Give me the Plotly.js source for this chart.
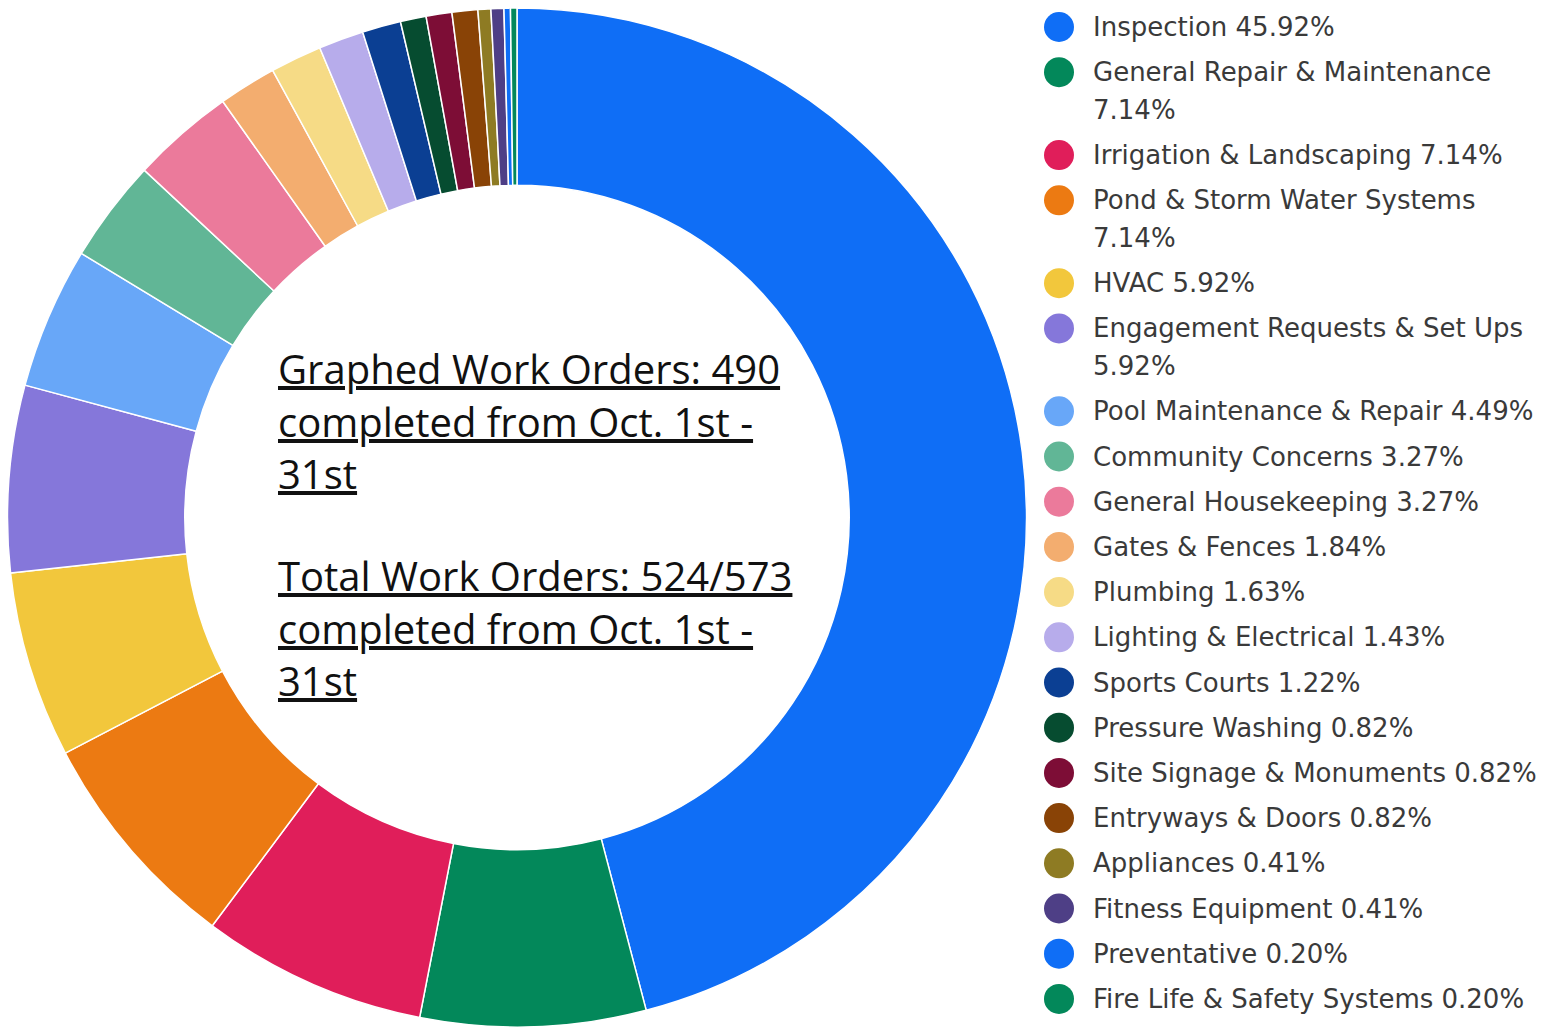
<!DOCTYPE html>
<html>
<head>
<meta charset="utf-8">
<script src="https://cdn.plot.ly/plotly-3.0.1.min.js"></script>
<style>html,body{margin:0;padding:0;background:#fff;}#chart{width:1560px;height:1029px;}</style>
</head>
<body>
<div id="chart"></div>
<script>
const categories = [
  "Inspection", "General Repair & Maintenance", "Irrigation & Landscaping",
  "Pond & Storm Water Systems", "HVAC", "Engagement Requests & Set Ups",
  "Pool Maintenance & Repair", "Community Concerns", "General Housekeeping",
  "Gates & Fences", "Plumbing", "Lighting & Electrical", "Sports Courts",
  "Pressure Washing", "Site Signage & Monuments", "Entryways & Doors",
  "Appliances", "Fitness Equipment", "Preventative", "Fire Life & Safety Systems"
];
const counts = [225, 35, 35, 35, 29, 29, 22, 16, 16, 9, 8, 7, 6, 4, 4, 4, 2, 2, 1, 1];
const colors = [
  "#0F6EF6", "#03885A", "#E01E5A", "#EC7A12", "#F2C73C", "#8577DA",
  "#68A7F8", "#61B696", "#EB7A9B", "#F3AD6F", "#F6DB86", "#B7ACEB",
  "#0B3F93", "#064C30", "#7D0D36", "#894306", "#8E7B23", "#4E3F86",
  "#0F6EF6", "#03885A"
];
const wrappedLabels = [1, 3, 5];  // legend entries whose percentage goes on a second line
const centerLines = [
  "Graphed Work Orders: 490", "completed from Oct. 1st -", "31st",
  "",
  "Total Work Orders: 524/573", "completed from Oct. 1st -", "31st"
];

const total = counts.reduce((a, b) => a + b, 0);
const pcts = counts.map(v => (v / total * 100).toFixed(2) + "%");

const W = 1560, H = 1029;
const pie = {
  type: "pie",
  values: counts,
  labels: categories,
  sort: false,
  direction: "clockwise",
  rotation: 0,
  hole: 0.652,
  textinfo: "none",
  hoverinfo: "label+percent",
  showlegend: false,
  marker: { colors: colors, line: { color: "#ffffff", width: 1.5 } },
  domain: { x: [5 / W, 1029 / W], y: [1 - 1027 / H, 1 - 8 / H] }
};

// legend layout
const legY = [];
const legX = [];
const annotations = [];
let y = 27;
const step = 45.2, extra = 37.7;
categories.forEach((c, i) => {
  legY.push(y);
  legX.push(1059);
  const font = { family: "DejaVu Sans, sans-serif", size: 26, color: "#3a3a3a" };
  if (wrappedLabels.includes(i)) {
    annotations.push({ x: 1091, y: y, xref: "x", yref: "y", text: c, showarrow: false, xanchor: "left", yanchor: "middle", font: font });
    annotations.push({ x: 1091, y: y + extra, xref: "x", yref: "y", text: pcts[i], showarrow: false, xanchor: "left", yanchor: "middle", font: font });
    y += step + extra;
  } else {
    annotations.push({ x: 1091, y: y, xref: "x", yref: "y", text: c + " " + pcts[i], showarrow: false, xanchor: "left", yanchor: "middle", font: font });
    y += step;
  }
});

const legendMarkers = {
  type: "scatter",
  mode: "markers",
  x: legX,
  y: legY,
  xaxis: "x",
  yaxis: "y",
  hoverinfo: "skip",
  showlegend: false,
  marker: { size: 30, color: colors, line: { width: 0 } }
};

// center text
const centerY = [368, 421, 473, 524, 575, 628, 680];
centerLines.forEach((t, i) => {
  if (!t) return;
  annotations.push({
    x: 276, y: centerY[i], xref: "x", yref: "y", text: "<u>" + t + "</u>",
    showarrow: false, xanchor: "left", yanchor: "middle",
    font: { family: "Open Sans, sans-serif", size: 40, color: "#111111" }
  });
});

const layout = {
  width: W, height: H,
  margin: { l: 0, r: 0, t: 0, b: 0 },
  paper_bgcolor: "#ffffff",
  plot_bgcolor: "rgba(0,0,0,0)",
  xaxis: { range: [0, W], domain: [0, 1], visible: false, fixedrange: true },
  yaxis: { range: [H, 0], domain: [0, 1], visible: false, fixedrange: true },
  annotations: annotations,
  showlegend: false
};

Plotly.newPlot("chart", [pie, legendMarkers], layout, { displayModeBar: false, staticPlot: true });
</script>
</body>
</html>
